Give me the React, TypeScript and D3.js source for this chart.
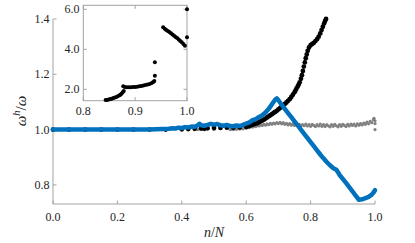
import React from "react";
import * as d3 from "d3";

// ---------- data ----------
const xTicks = [0, 0.2, 0.4, 0.6, 0.8, 1.0];
const yTicks = [0.8, 1.0, 1.2, 1.4];
const insetXTicks = [0.8, 0.9, 1.0];
const insetYTicks = [2.0, 4.0, 6.0];

// blue line (n/N, omega^h/omega)
const blueSeries: [number, number][] = [
  [0, 1.0], [0.1, 1.0], [0.2, 1.0], [0.3, 1.0], [0.32, 1.001], [0.34, 1.002],
  [0.36, 1.003], [0.37, 1.005], [0.38, 1.004], [0.39, 1.007], [0.40, 1.006],
  [0.41, 1.009], [0.42, 1.008], [0.43, 1.011], [0.44, 1.010], [0.45, 1.016],
  [0.455, 1.021], [0.46, 1.016], [0.47, 1.014], [0.48, 1.017], [0.49, 1.021],
  [0.50, 1.018], [0.51, 1.020], [0.52, 1.016], [0.53, 1.014], [0.54, 1.017],
  [0.55, 1.013], [0.56, 1.012], [0.57, 1.015], [0.58, 1.013], [0.59, 1.017],
  [0.60, 1.022], [0.61, 1.026], [0.62, 1.034], [0.63, 1.038], [0.64, 1.046],
  [0.65, 1.052], [0.66, 1.062], [0.67, 1.075], [0.68, 1.092], [0.69, 1.108],
  [0.695, 1.113], [0.70, 1.106], [0.71, 1.09], [0.72, 1.075], [0.73, 1.06],
  [0.74, 1.045], [0.75, 1.03], [0.76, 1.015], [0.77, 1.0], [0.78, 0.985],
  [0.79, 0.97], [0.80, 0.955], [0.81, 0.94], [0.82, 0.925], [0.83, 0.91],
  [0.84, 0.896], [0.85, 0.883], [0.86, 0.871], [0.87, 0.861], [0.875, 0.858],
  [0.88, 0.855], [0.885, 0.846], [0.89, 0.836], [0.90, 0.822], [0.91, 0.807],
  [0.92, 0.792], [0.93, 0.777], [0.94, 0.761], [0.95, 0.746], [0.96, 0.748],
  [0.97, 0.752], [0.98, 0.757], [0.99, 0.765], [0.995, 0.772], [1.0, 0.781],
];

// black dots
const blackSeries: [number, number][] = [
  [0, 1.0], [0.05, 1.0], [0.1, 1.0], [0.15, 1.0], [0.2, 1.0], [0.25, 1.0],
  [0.3, 1.0], [0.35, 1.0], [0.4, 1.001], [0.42, 1.002], [0.44, 1.003],
  [0.46, 1.004], [0.47, 1.003], [0.48, 1.005], [0.50, 1.006], [0.52, 1.006],
  [0.54, 1.007], [0.56, 1.007], [0.58, 1.008], [0.60, 1.01], [0.605, 1.012],
  [0.61, 1.014], [0.615, 1.016], [0.62, 1.018], [0.625, 1.02], [0.63, 1.022],
  [0.635, 1.024], [0.64, 1.027], [0.645, 1.03], [0.65, 1.033], [0.655, 1.036],
  [0.66, 1.04], [0.665, 1.044], [0.67, 1.048], [0.675, 1.052], [0.68, 1.056],
  [0.685, 1.06], [0.69, 1.064], [0.695, 1.068], [0.70, 1.073], [0.705, 1.078],
  [0.71, 1.083], [0.715, 1.088], [0.72, 1.093], [0.725, 1.098], [0.73, 1.104],
  [0.735, 1.11], [0.74, 1.118], [0.745, 1.126], [0.75, 1.135], [0.753, 1.141],
  [0.756, 1.148], [0.76, 1.156], [0.763, 1.163], [0.766, 1.171], [0.77, 1.184],
  [0.773, 1.197], [0.776, 1.212], [0.779, 1.228], [0.782, 1.243], [0.785, 1.258],
  [0.788, 1.272], [0.791, 1.285], [0.795, 1.297], [0.80, 1.305], [0.805, 1.31],
  [0.81, 1.314], [0.815, 1.32], [0.82, 1.327], [0.825, 1.336], [0.83, 1.348],
  [0.834, 1.36], [0.838, 1.372], [0.842, 1.384], [0.845, 1.393], [0.848, 1.40],
];

// gray dots
const graySeries: [number, number][] = [
  [0, 1.0], [0.05, 1.0], [0.1, 1.0], [0.15, 1.0], [0.2, 1.0], [0.25, 1.0],
  [0.3, 1.0], [0.35, 1.0], [0.4, 1.0], [0.45, 1.0], [0.5, 1.0],
  [0.55, 1.0], [0.555, 1.002], [0.56, 1.0], [0.565, 1.003], [0.57, 1.001],
  [0.575, 1.004], [0.58, 1.002], [0.585, 1.005], [0.59, 1.003], [0.595, 1.006],
  [0.60, 1.005], [0.605, 1.008], [0.61, 1.007], [0.615, 1.011], [0.62, 1.009],
  [0.625, 1.013], [0.63, 1.011], [0.635, 1.015], [0.64, 1.013], [0.645, 1.017],
  [0.65, 1.015], [0.655, 1.019], [0.66, 1.016], [0.665, 1.021], [0.67, 1.018],
  [0.675, 1.023], [0.68, 1.019], [0.685, 1.024], [0.69, 1.021], [0.695, 1.025],
  [0.70, 1.022], [0.705, 1.026], [0.71, 1.021], [0.715, 1.025], [0.72, 1.019],
  [0.725, 1.023], [0.73, 1.017], [0.735, 1.022], [0.74, 1.016], [0.745, 1.021],
  [0.75, 1.015], [0.755, 1.02], [0.76, 1.014], [0.765, 1.019], [0.77, 1.013],
  [0.775, 1.018], [0.78, 1.014], [0.785, 1.02], [0.79, 1.013], [0.795, 1.018],
  [0.80, 1.012], [0.805, 1.019], [0.81, 1.015], [0.815, 1.011], [0.82, 1.018],
  [0.825, 1.013], [0.83, 1.02], [0.835, 1.012], [0.84, 1.018], [0.845, 1.011],
  [0.85, 1.018], [0.855, 1.014], [0.86, 1.01], [0.865, 1.018], [0.87, 1.012],
  [0.875, 1.019], [0.88, 1.014], [0.885, 1.01], [0.89, 1.018], [0.895, 1.012],
  [0.90, 1.019], [0.905, 1.015], [0.91, 1.011], [0.915, 1.019], [0.92, 1.013],
  [0.925, 1.02], [0.93, 1.015], [0.935, 1.02], [0.94, 1.013], [0.945, 1.021],
  [0.95, 1.016], [0.955, 1.022], [0.96, 1.017], [0.965, 1.024], [0.97, 1.019],
  [0.975, 1.027], [0.98, 1.021], [0.985, 1.03], [0.99, 1.025], [0.995, 1.036],
  [0.997, 1.041], [1.0, 1.032], [1.0, 1.022], [1.0, 1.0],
];

// inset black dots
const insetSeries: [number, number][] = [
  [0.843, 1.46], [0.846, 1.47], [0.849, 1.49], [0.852, 1.51], [0.855, 1.53],
  [0.858, 1.56], [0.861, 1.59], [0.864, 1.62], [0.867, 1.66], [0.870, 1.70],
  [0.872, 1.74], [0.874, 1.79], [0.876, 1.85], [0.878, 1.92],
  [0.877, 2.15], [0.880, 2.12], [0.884, 2.10], [0.888, 2.10], [0.892, 2.10],
  [0.896, 2.11], [0.900, 2.12], [0.904, 2.13], [0.908, 2.15], [0.912, 2.17],
  [0.916, 2.19], [0.920, 2.21], [0.924, 2.24], [0.928, 2.27], [0.932, 2.31],
  [0.935, 2.36], [0.937, 2.42],
  [0.938, 2.68], [0.938, 3.35],
  [0.954, 5.10], [0.957, 5.03], [0.960, 4.97], [0.963, 4.91], [0.966, 4.86],
  [0.969, 4.80], [0.972, 4.74], [0.975, 4.68], [0.978, 4.62], [0.981, 4.56],
  [0.984, 4.49], [0.987, 4.42], [0.990, 4.35], [0.993, 4.27], [0.996, 4.18],
  [1.0, 4.6], [1.0, 6.0],
];

// ---------- component ----------
const FONT = "Liberation Serif, DejaVu Serif, serif";
const AXIS = "#a3a3a3";
const TXT = "#262626";

export default function App() {
  const x = d3.scaleLinear().domain([0, 1]).range([53, 375]);
  const y = d3.scaleLinear().domain([0.731, 1.4]).range([204, 19]);
  const xi = d3.scaleLinear().domain([0.8, 1.0]).range([83.3, 187]);
  const yi = d3.scaleLinear().domain([1.43, 6.2]).range([100.7, 5.3]);

  const line = d3
    .line<[number, number]>()
    .x((d) => x(d[0]))
    .y((d) => y(d[1]))
    .curve(d3.curveLinear);

  const fmt = d3.format(".1f");
  const tl = 3.5;

  return (
    <svg
      width={415}
      height={243}
      fontFamily={FONT}
      style={{ position: "absolute", left: 0, top: 0, background: "#fff" }}
    >
      {/* main axes */}
      <line x1={x(0)} x2={x(1)} y1={y(0.731)} y2={y(0.731)} stroke={AXIS} strokeWidth={1} />
      <line x1={x(0)} x2={x(0)} y1={y(0.731)} y2={y(1.4)} stroke={AXIS} strokeWidth={1} />
      {xTicks.map((t) => (
        <g key={"xt" + t}>
          <line x1={x(t)} x2={x(t)} y1={y(0.731)} y2={y(0.731) - tl} stroke={AXIS} />
          <text x={x(t)} y={221} textAnchor="middle" fontFamily={FONT} fontSize={12} fill={TXT}>
            {fmt(t)}
          </text>
        </g>
      ))}
      {yTicks.map((t) => (
        <g key={"yt" + t}>
          <line x1={x(0)} x2={x(0) + tl} y1={y(t)} y2={y(t)} stroke={AXIS} />
          <text x={49.5} y={y(t) + 4} textAnchor="end" fontFamily={FONT} fontSize={12} fill={TXT}>
            {fmt(t)}
          </text>
        </g>
      ))}

      {/* gray dots */}
      {graySeries.map((d, i) => (
        <circle key={"g" + i} cx={x(d[0])} cy={y(d[1])} r={1.6} fill="#808080" />
      ))}
      {/* black dots */}
      {blackSeries.map((d, i) => (
        <circle key={"b" + i} cx={x(d[0])} cy={y(d[1])} r={2.4} fill="#000" />
      ))}
      {/* blue line */}
      <path
        d={line(blueSeries) || ""}
        fill="none"
        stroke="#0072BD"
        strokeWidth={4.5}
        strokeLinejoin="round"
        strokeLinecap="round"
      />

      {/* labels */}
      <text
        transform={`translate(25.5, 111) rotate(-90)`}
        textAnchor="middle"
        fontFamily={FONT}
        fontSize={15}
        fill={TXT}
      >
        <tspan fontStyle="italic">ω</tspan>
        <tspan fontStyle="italic" fontSize={10.5} dy={-5.5}>h</tspan>
        <tspan dy={5.5}>/</tspan>
        <tspan fontStyle="italic">ω</tspan>
      </text>
      <text x={214} y={237} textAnchor="middle" fontFamily={FONT} fontSize={14} fill={TXT}>
        <tspan fontStyle="italic">n</tspan>
        <tspan>/</tspan>
        <tspan fontStyle="italic">N</tspan>
      </text>

      {/* inset */}
      <rect
        x={xi(0.8)}
        y={yi(6.2)}
        width={xi(1.0) - xi(0.8)}
        height={yi(1.43) - yi(6.2)}
        fill="#fff"
        stroke={AXIS}
        strokeWidth={1}
      />
      {insetXTicks.map((t) => (
        <g key={"ixt" + t}>
          <line x1={xi(t)} x2={xi(t)} y1={yi(1.43)} y2={yi(1.43) - tl} stroke={AXIS} />
          <line x1={xi(t)} x2={xi(t)} y1={yi(6.2)} y2={yi(6.2) + tl} stroke={AXIS} />
          <text x={xi(t)} y={115} textAnchor="middle" fontFamily={FONT} fontSize={12} fill={TXT}>
            {fmt(t)}
          </text>
        </g>
      ))}
      {insetYTicks.map((t) => (
        <g key={"iyt" + t}>
          <line x1={xi(0.8)} x2={xi(0.8) + tl} y1={yi(t)} y2={yi(t)} stroke={AXIS} />
          <line x1={xi(1.0)} x2={xi(1.0) - tl} y1={yi(t)} y2={yi(t)} stroke={AXIS} />
          <text x={79.5} y={yi(t) + 4} textAnchor="end" fontFamily={FONT} fontSize={12} fill={TXT}>
            {fmt(t)}
          </text>
        </g>
      ))}
      {insetSeries.map((d, i) => (
        <circle key={"i" + i} cx={xi(d[0])} cy={yi(d[1])} r={2} fill="#000" />
      ))}
    </svg>
  );
}
